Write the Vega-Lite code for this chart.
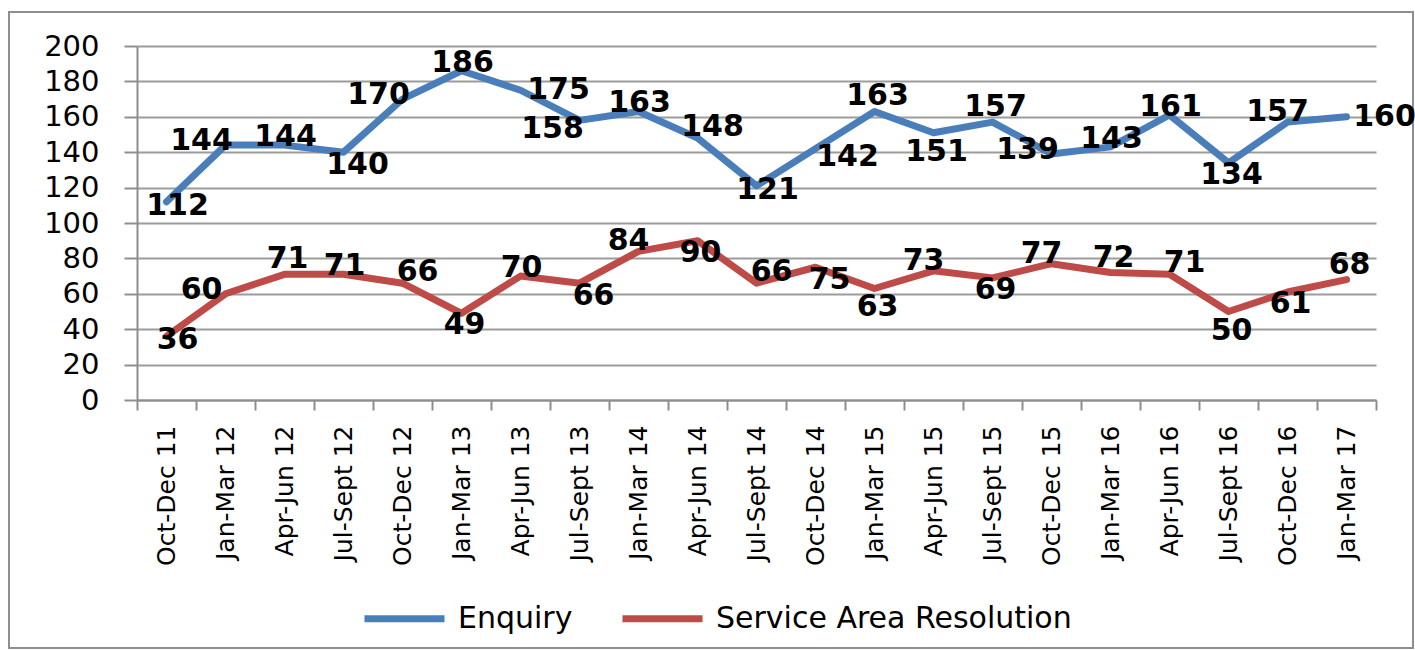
{
  "$schema": "https://vega.github.io/schema/vega-lite/v6.json",
  "width": 1404,
  "height": 636,
  "autosize": {"type": "none"},
  "padding": {"left": 9, "top": 12, "right": 2, "bottom": 2},
  "background": "white",
  "data": {
    "values": [
      {"q": "Oct-Dec 11", "series": "Enquiry", "value": 112},
      {"q": "Jan-Mar 12", "series": "Enquiry", "value": 144},
      {"q": "Apr-Jun 12", "series": "Enquiry", "value": 144},
      {"q": "Jul-Sept 12", "series": "Enquiry", "value": 140},
      {"q": "Oct-Dec 12", "series": "Enquiry", "value": 170},
      {"q": "Jan-Mar 13", "series": "Enquiry", "value": 186},
      {"q": "Apr-Jun 13", "series": "Enquiry", "value": 175},
      {"q": "Jul-Sept 13", "series": "Enquiry", "value": 158},
      {"q": "Jan-Mar 14", "series": "Enquiry", "value": 163},
      {"q": "Apr-Jun 14", "series": "Enquiry", "value": 148},
      {"q": "Jul-Sept 14", "series": "Enquiry", "value": 121},
      {"q": "Oct-Dec 14", "series": "Enquiry", "value": 142},
      {"q": "Jan-Mar 15", "series": "Enquiry", "value": 163},
      {"q": "Apr-Jun 15", "series": "Enquiry", "value": 151},
      {"q": "Jul-Sept 15", "series": "Enquiry", "value": 157},
      {"q": "Oct-Dec 15", "series": "Enquiry", "value": 139},
      {"q": "Jan-Mar 16", "series": "Enquiry", "value": 143},
      {"q": "Apr-Jun 16", "series": "Enquiry", "value": 161},
      {"q": "Jul-Sept 16", "series": "Enquiry", "value": 134},
      {"q": "Oct-Dec 16", "series": "Enquiry", "value": 157},
      {"q": "Jan-Mar 17", "series": "Enquiry", "value": 160},
      {"q": "Oct-Dec 11", "series": "Service Area Resolution", "value": 36},
      {"q": "Jan-Mar 12", "series": "Service Area Resolution", "value": 60},
      {"q": "Apr-Jun 12", "series": "Service Area Resolution", "value": 71},
      {"q": "Jul-Sept 12", "series": "Service Area Resolution", "value": 71},
      {"q": "Oct-Dec 12", "series": "Service Area Resolution", "value": 66},
      {"q": "Jan-Mar 13", "series": "Service Area Resolution", "value": 49},
      {"q": "Apr-Jun 13", "series": "Service Area Resolution", "value": 70},
      {"q": "Jul-Sept 13", "series": "Service Area Resolution", "value": 66},
      {"q": "Jan-Mar 14", "series": "Service Area Resolution", "value": 84},
      {"q": "Apr-Jun 14", "series": "Service Area Resolution", "value": 90},
      {"q": "Jul-Sept 14", "series": "Service Area Resolution", "value": 66},
      {"q": "Oct-Dec 14", "series": "Service Area Resolution", "value": 75},
      {"q": "Jan-Mar 15", "series": "Service Area Resolution", "value": 63},
      {"q": "Apr-Jun 15", "series": "Service Area Resolution", "value": 73},
      {"q": "Jul-Sept 15", "series": "Service Area Resolution", "value": 69},
      {"q": "Oct-Dec 15", "series": "Service Area Resolution", "value": 77},
      {"q": "Jan-Mar 16", "series": "Service Area Resolution", "value": 72},
      {"q": "Apr-Jun 16", "series": "Service Area Resolution", "value": 71},
      {"q": "Jul-Sept 16", "series": "Service Area Resolution", "value": 50},
      {"q": "Oct-Dec 16", "series": "Service Area Resolution", "value": 61},
      {"q": "Jan-Mar 17", "series": "Service Area Resolution", "value": 68}
    ]
  },
  "encoding": {
    "x": {
      "field": "q", "type": "nominal", "sort": null, "bandPosition": 0.5,
      "scale": {"type": "band", "paddingInner": 0, "paddingOuter": 0, "range": [128, 1367]},
      "axis": {"title": null, "offset": -248, "labelAngle": -90, "labelAlign": "right", "labelBaseline": "middle", "tickBand": "extent", "tickSize": 10, "labelPadding": 15, "labelFontSize": 25, "grid": false}
    },
    "y": {
      "field": "value", "type": "quantitative",
      "scale": {"domain": [0, 200], "range": [388, 34], "nice": false},
      "axis": {"title": null, "offset": -128, "values": [0, 20, 40, 60, 80, 100, 120, 140, 160, 180, 200], "tickSize": 13, "labelPadding": 25, "labelFontSize": 29, "grid": true}
    }
  },
  "layer": [
    {
      "mark": {"type": "line", "strokeWidth": 7, "strokeCap": "round", "strokeJoin": "round"},
      "encoding": {
        "color": {
          "field": "series", "type": "nominal",
          "scale": {"domain": ["Enquiry", "Service Area Resolution"], "range": ["#4a7ebb", "#be4b48"]},
          "legend": {"orient": "none", "legendX": 352, "legendY": 563, "direction": "horizontal", "title": null, "symbolType": "stroke", "symbolSize": 6400, "symbolStrokeWidth": 7, "labelFontSize": 30, "labelFont": "DejaVu Sans", "labelColor": "black", "labelOffset": 10, "labelLimit": 800, "columnPadding": 35, "padding": 0}
        }
      }
    },
    {
      "transform": [{"filter": "(datum.series[0]==='E' && indexof(['Apr-Jun 12','Jan-Mar 13','Jan-Mar 14','Jan-Mar 16','Apr-Jun 16'], datum.q)>=0) || (datum.series[0]==='S' && indexof(['Jul-Sept 12','Apr-Jun 13'], datum.q)>=0)"}],
      "mark": {"type": "text", "dx": 1, "dy": -8, "font": "DejaVu Sans", "fontWeight": "bold", "fontSize": 30, "fill": "black"},
      "encoding": {"text": {"field": "value", "type": "quantitative"}}
    },
    {
      "transform": [{"filter": "(datum.series[0]==='E' && indexof(['Jan-Mar 15','Jul-Sept 15'], datum.q)>=0) || (datum.series[0]==='S' && indexof(['Apr-Jun 12','Jan-Mar 16','Jan-Mar 17'], datum.q)>=0)"}],
      "mark": {"type": "text", "dx": 3, "dy": -15, "font": "DejaVu Sans", "fontWeight": "bold", "fontSize": 30, "fill": "black"},
      "encoding": {"text": {"field": "value", "type": "quantitative"}}
    },
    {
      "transform": [{"filter": "(datum.series[0]==='E' && indexof(['Oct-Dec 16'], datum.q)>=0) || (datum.series[0]==='S' && indexof(['Jan-Mar 14','Apr-Jun 15','Oct-Dec 15'], datum.q)>=0)"}],
      "mark": {"type": "text", "dx": -10, "dy": -10, "font": "DejaVu Sans", "fontWeight": "bold", "fontSize": 30, "fill": "black"},
      "encoding": {"text": {"field": "value", "type": "quantitative"}}
    },
    {
      "transform": [{"filter": "(datum.series[0]==='E' && indexof(['Apr-Jun 14'], datum.q)>=0) || (datum.series[0]==='S' && indexof(['Oct-Dec 12','Jul-Sept 14','Apr-Jun 16'], datum.q)>=0)"}],
      "mark": {"type": "text", "dx": 15, "dy": -11, "font": "DejaVu Sans", "fontWeight": "bold", "fontSize": 30, "fill": "black"},
      "encoding": {"text": {"field": "value", "type": "quantitative"}}
    },
    {
      "transform": [{"filter": "(datum.series[0]==='E' && indexof(['Jul-Sept 16'], datum.q)>=0) || (datum.series[0]==='S' && indexof(['Jan-Mar 13','Apr-Jun 14','Jul-Sept 15','Oct-Dec 16'], datum.q)>=0)"}],
      "mark": {"type": "text", "dx": 3, "dy": 12, "font": "DejaVu Sans", "fontWeight": "bold", "fontSize": 30, "fill": "black"},
      "encoding": {"text": {"field": "value", "type": "quantitative"}}
    },
    {
      "transform": [{"filter": "(datum.series[0]==='E' && indexof(['Apr-Jun 15'], datum.q)>=0) || (datum.series[0]==='S' && indexof(['Jan-Mar 15','Jul-Sept 16'], datum.q)>=0)"}],
      "mark": {"type": "text", "dx": 3, "dy": 19, "font": "DejaVu Sans", "fontWeight": "bold", "fontSize": 30, "fill": "black"},
      "encoding": {"text": {"field": "value", "type": "quantitative"}}
    },
    {
      "transform": [{"filter": "(datum.series[0]==='E' && indexof(['Jul-Sept 12'], datum.q)>=0) || (datum.series[0]==='S' && indexof(['Jul-Sept 13','Oct-Dec 14'], datum.q)>=0)"}],
      "mark": {"type": "text", "dx": 14, "dy": 13, "font": "DejaVu Sans", "fontWeight": "bold", "fontSize": 30, "fill": "black"},
      "encoding": {"text": {"field": "value", "type": "quantitative"}}
    },
    {
      "transform": [{"filter": "(datum.series[0]==='E' && indexof(['Oct-Dec 11','Jul-Sept 14'], datum.q)>=0) || (datum.series[0]==='S' && indexof(['Oct-Dec 11'], datum.q)>=0)"}],
      "mark": {"type": "text", "dx": 11, "dy": 4, "font": "DejaVu Sans", "fontWeight": "bold", "fontSize": 30, "fill": "black"},
      "encoding": {"text": {"field": "value", "type": "quantitative"}}
    },
    {
      "transform": [{"filter": "datum.series[0]==='E' && datum.q==='Oct-Dec 14'"}],
      "mark": {"type": "text", "dx": 32, "dy": 8, "font": "DejaVu Sans", "fontWeight": "bold", "fontSize": 30, "fill": "black"},
      "encoding": {"text": {"field": "value", "type": "quantitative"}}
    },
    {
      "transform": [{"filter": "(datum.series[0]==='E' && indexof(['Jan-Mar 12','Oct-Dec 12','Oct-Dec 15'], datum.q)>=0) || (datum.series[0]==='S' && indexof(['Jan-Mar 12'], datum.q)>=0)"}],
      "mark": {"type": "text", "dx": -24, "dy": -4, "font": "DejaVu Sans", "fontWeight": "bold", "fontSize": 30, "fill": "black"},
      "encoding": {"text": {"field": "value", "type": "quantitative"}}
    },
    {
      "transform": [{"filter": "datum.series[0]==='E' && datum.q==='Jul-Sept 13'"}],
      "mark": {"type": "text", "dx": -27, "dy": 9, "font": "DejaVu Sans", "fontWeight": "bold", "fontSize": 30, "fill": "black"},
      "encoding": {"text": {"field": "value", "type": "quantitative"}}
    },
    {
      "transform": [{"filter": "datum.series[0]==='E' && indexof(['Apr-Jun 13','Jan-Mar 17'], datum.q)>=0"}],
      "mark": {"type": "text", "dx": 38, "dy": 0, "font": "DejaVu Sans", "fontWeight": "bold", "fontSize": 30, "fill": "black"},
      "encoding": {"text": {"field": "value", "type": "quantitative"}}
    }
  ],
  "config": {
    "view": {"stroke": "#8e8e8e", "strokeWidth": 2},
    "axis": {
      "domainColor": "#8e8e8e", "domainWidth": 2,
      "tickColor": "#8e8e8e", "tickWidth": 2,
      "gridColor": "#9c9c9c", "gridWidth": 2,
      "labelFont": "DejaVu Sans", "labelColor": "black"
    }
  }
}
